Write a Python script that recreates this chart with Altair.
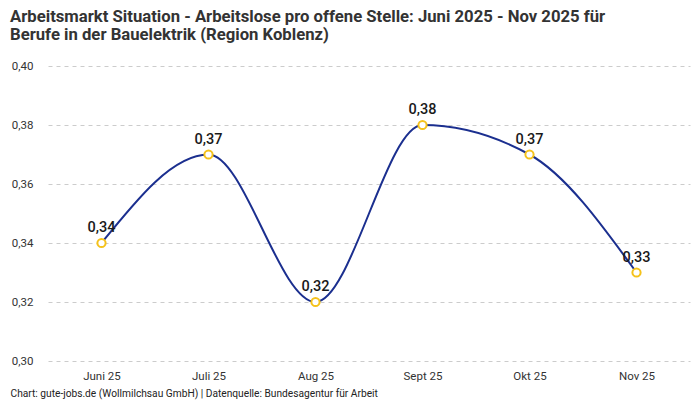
import altair as alt
import pandas as pd

months = ["Juni 25", "Juli 25", "Aug 25", "Sept 25", "Okt 25", "Nov 25"]
values = [0.34, 0.37, 0.32, 0.38, 0.37, 0.33]
y_ticks = [0.30, 0.32, 0.34, 0.36, 0.38, 0.40]

title_lines = [
    "Arbeitsmarkt Situation - Arbeitslose pro offene Stelle: Juni 2025 - Nov 2025 für",
    "Berufe in der Bauelektrik (Region Koblenz)",
]
footer = "Chart: gute-jobs.de (Wollmilchsau GmbH) | Datenquelle: Bundesagentur für Arbeit"

df = pd.DataFrame({"Monat": months, "Wert": values})
df["Label"] = [f"{v:.2f}".replace(".", ",") for v in values]

FONT = "Roboto"

x = alt.X(
    "Monat:N",
    sort=months,
    scale=alt.Scale(paddingInner=0, paddingOuter=0),
    axis=alt.Axis(
        title=footer,
        titleFont=FONT,
        titleFontSize=10.2,
        titleFontWeight="normal",
        titleColor="#222",
        titleAnchor="start",
        titleAlign="left",
        titleBaseline="middle",
        titleX=-38,
        titleY=32,
        labelAngle=0,
        labelFont=FONT,
        labelFontSize=11.5,
        labelColor="#333",
        labelPadding=9,
        ticks=False,
        domain=False,
        grid=False,
    ),
)
y = alt.Y(
    "Wert:Q",
    scale=alt.Scale(domain=[0.30, 0.40], nice=False, zero=False),
    axis=alt.Axis(
        title=None,
        values=y_ticks,
        labelExpr="replace(format(datum.value, '.2f'), '.', ',')",
        labelFont=FONT,
        labelFontSize=11.5,
        labelColor="#333",
        labelPadding=15,
        ticks=False,
        domain=False,
        grid=True,
        gridColor="#cccccc",
        gridDash=[4, 4],
        gridWidth=1,
    ),
)

base = alt.Chart(df).encode(x=x, y=y)

line = base.mark_line(interpolate="monotone", color="#1b2f8f", strokeWidth=2)
points = base.mark_point(
    filled=False, fill="white", stroke="#f5c21b", strokeWidth=2, size=68, opacity=1
)
labels = base.mark_text(
    dy=-15, font=FONT, fontSize=14.5, fontWeight=500, color="#1a1a1a"
).encode(text="Label:N")

chart = (
    alt.layer(line, points, labels)
    .properties(
        width=642,
        height=295,
        background="white",
        title=alt.TitleParams(
            text=title_lines,
            anchor="start",
            frame="group",
            font=FONT,
            fontSize=16.7,
            fontWeight="bold",
            color="#333",
            dx=-38,
            offset=16,
            lineHeight=18,
        ),
        autosize=alt.AutoSizeParams(type="none"),
        padding={"left": 40, "top": 58, "right": 2, "bottom": 40},
    )
    .configure_view(strokeWidth=0, stroke="transparent")
)

chart.save("out.html", embed_options={"renderer": "svg", "actions": False})
